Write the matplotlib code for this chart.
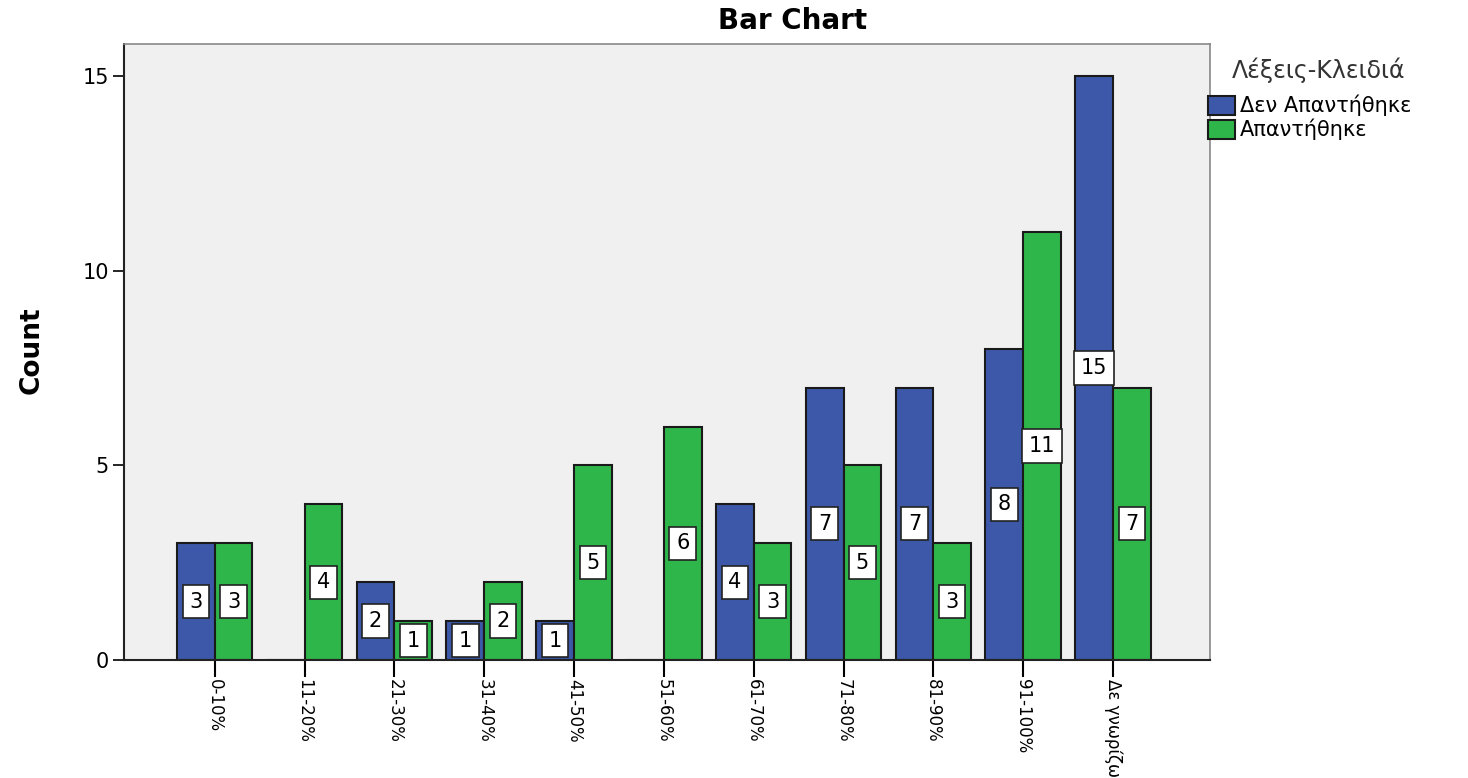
import matplotlib
matplotlib.use('Agg')
import matplotlib.pyplot as plt
import numpy as np

plt.rcParams['font.family'] = ['DejaVu Sans']

categories = ['0-10%', '11-20%', '21-30%', '31-40%', '41-50%', '51-60%',
              '61-70%', '71-80%', '81-90%', '91-100%', 'Δε γνωρίζω']
not_answered = [3, 0, 2, 1, 1, 0, 4, 7, 7, 8, 15]
answered = [3, 4, 1, 2, 5, 6, 3, 5, 3, 11, 7]
series_names = ['Δεν Απαντήθηκε', 'Απαντήθηκε']
legend_title = 'Λέξεις-Κλειδιά'
colors = ['#3d58a9', '#2fb64a']

fig = plt.figure(figsize=(14.68, 7.78), dpi=100)
ax = fig.add_axes([124 / 1468, 1 - 660 / 778, (1210 - 124) / 1468, (660 - 44) / 778])
ax.set_facecolor('#f0f0f0')

x = np.arange(len(categories))
w = 0.42
offsets = [-w / 2, w / 2]
for vals, off, col, name in zip([not_answered, answered], offsets, colors, series_names):
    ax.bar(x + off, vals, width=w, color=col, edgecolor='#1a1a1a', linewidth=1.5, label=name, zorder=2)
    for xi, v in zip(x, vals):
        if v == 0:
            continue
        ax.text(xi + off, v / 2, str(v), ha='center', va='center', fontsize=15, zorder=3,
                bbox=dict(boxstyle='square,pad=0.32', facecolor='white', edgecolor='#222222', linewidth=1.2))

ax.set_xlim(-1.01, 11.08)
ax.set_ylim(0, 15.83)
ax.set_yticks([0, 5, 10, 15])
ax.set_xticks(x)
ax.set_xticklabels(categories, rotation=270, fontsize=12)
ax.tick_params(axis='y', labelsize=15, length=8, width=1.2, direction='out', pad=3)
ax.tick_params(axis='x', length=12, width=1.5, direction='out', pad=2)

for side in ['top', 'right']:
    ax.spines[side].set_color('#888888')
    ax.spines[side].set_linewidth(1.2)
for side in ['left', 'bottom']:
    ax.spines[side].set_color('#222222')
    ax.spines[side].set_linewidth(1.5)

fig.text(32 / 1468, 1 - 350 / 778, 'Count', rotation=90, ha='center', va='center',
         fontsize=19, fontweight='bold')
fig.text(793 / 1468, 1 - 21 / 778, 'Bar Chart', ha='center', va='center',
         fontsize=20, fontweight='bold')

# legend header sits indented from the swatches, as in the original
fig.text(1232 / 1468, 1 - 70 / 778, legend_title, ha='left', va='center',
         fontsize=17, color='#333333')
leg = ax.legend(loc='upper left', bbox_to_anchor=(1208 / 1468, 1 - 95 / 778),
                bbox_transform=fig.transFigure,
                frameon=False, fontsize=15, handlelength=1.3,
                handleheight=1.05, handletextpad=0.25, labelspacing=0.12, borderaxespad=0,
                borderpad=0)
for h in leg.legend_handles:
    h.set_edgecolor('#1a1a1a')

fig.savefig('out.png', dpi=100)
